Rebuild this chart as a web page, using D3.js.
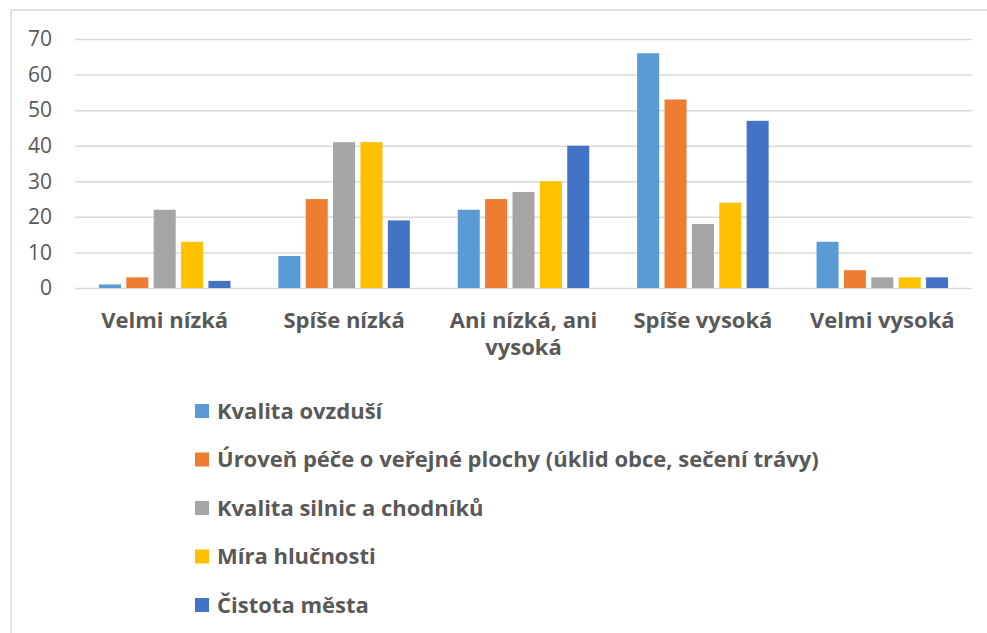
<!DOCTYPE html>
<html>
<head>
<meta charset="utf-8">
<script src="https://cdn.jsdelivr.net/npm/d3@7"></script>
<style>
  body { margin: 0; background: #fff; }
  svg text { font-family: "Open Sans", "Noto Sans", sans-serif; fill: #595959; }
</style>
</head>
<body>
<div id="chart"></div>
<script>
const width = 987;
const height = 633;

// data
const categories = ["Velmi nízká", "Spíše nízká", "Ani nízká, ani vysoká", "Spíše vysoká", "Velmi vysoká"];
const series = [
    "Kvalita ovzduší",
    "Úroveň péče o veřejné plochy (úklid obce, sečení trávy)",
    "Kvalita silnic a chodníků",
    "Míra hlučnosti",
    "Čistota města"
];
const kvalitaOvzdusi = [1, 9, 22, 66, 13];
const pecePlochy = [3, 25, 25, 53, 5];
const silniceChodniky = [22, 41, 27, 18, 3];
const hlucnost = [13, 41, 30, 24, 3];
const cistota = [2, 19, 40, 47, 3];
const yTicks = [0, 10, 20, 30, 40, 50, 60, 70];
const colors = ["#5B9BD5", "#ED7D31", "#A5A5A5", "#FFC000", "#4472C4"];

const values = [kvalitaOvzdusi, pecePlochy, silniceChodniky, hlucnost, cistota];
const table = categories.map((c, i) => ({
    category: c,
    bars: series.map((s, j) => ({ series: s, value: values[j][i], color: colors[j] }))
}));

const margin = { top: 39, right: 15, bottom: 345, left: 75 };

const svg = d3.select("#chart").append("svg")
    .attr("width", width)
    .attr("height", height);

// outer frame (only top and left edges visible in the crop)
svg.append("rect")
    .attr("x", 11)
    .attr("y", 10)
    .attr("width", 1000)
    .attr("height", 700)
    .attr("fill", "none")
    .attr("stroke", "#d9d9d9")
    .attr("stroke-width", 1.5);

const x0 = d3.scaleBand()
    .domain(categories)
    .range([margin.left, width - margin.right])
    .paddingInner(0.267)
    .paddingOuter(0.1335);

const x1 = d3.scaleBand()
    .domain(series)
    .range([0, x0.bandwidth()])
    .paddingInner(0.196);

const y = d3.scaleLinear()
    .domain([0, 70])
    .range([height - margin.bottom, margin.top]);

// gridlines + tick labels
const yAxis = d3.axisLeft(y)
    .tickValues(yTicks)
    .tickSize(-(width - margin.right - margin.left))
    .tickPadding(23);

const gy = svg.append("g")
    .attr("transform", `translate(${margin.left},0)`)
    .call(yAxis);
gy.select(".domain").remove();
gy.selectAll(".tick line")
    .attr("stroke", "#d9d9d9")
    .attr("stroke-width", 1.5);
gy.selectAll(".tick text")
    .style("font-size", "21px")
    .attr("fill", "#595959");

// bars
const groups = svg.append("g")
    .selectAll("g")
    .data(table)
    .enter()
    .append("g")
    .attr("transform", d => `translate(${x0(d.category)},0)`);

groups.selectAll("rect")
    .data(d => d.bars)
    .enter()
    .append("rect")
    .attr("x", d => x1(d.series))
    .attr("y", d => y(d.value))
    .attr("width", x1.bandwidth())
    .attr("height", d => y(0) - y(d.value))
    .attr("fill", d => d.color);

// category labels, wrapped to the band width
const xAxis = d3.axisBottom(x0).tickSize(0).tickPadding(0);
const gx = svg.append("g")
    .attr("transform", `translate(0,${y(0)})`)
    .call(xAxis);
gx.select(".domain").remove();
gx.selectAll(".tick text")
    .style("font-size", "22px")
    .style("font-weight", "bold")
    .attr("fill", "#595959")
    .attr("dy", null)
    .attr("y", 40)
    .call(wrap, x0.step() - 10);

function wrap(text, maxWidth) {
    text.each(function() {
        const t = d3.select(this);
        const words = t.text().split(/\s+/);
        t.text(null);
        let line = [];
        let lineNo = 0;
        let tspan = t.append("tspan").attr("x", 0).attr("y", 40);
        words.forEach(w => {
            line.push(w);
            tspan.text(line.join(" "));
            if (tspan.node().getComputedTextLength() > maxWidth && line.length > 1) {
                line.pop();
                tspan.text(line.join(" "));
                line = [w];
                lineNo++;
                tspan = t.append("tspan").attr("x", 0).attr("y", 40 + lineNo * 27).text(w);
            }
        });
    });
}

// legend
const legend = svg.append("g")
    .attr("transform", "translate(195,411)");

const items = legend.selectAll("g")
    .data(series)
    .enter()
    .append("g")
    .attr("transform", (d, i) => `translate(0,${i * 48.5})`);

items.append("rect")
    .attr("x", 0)
    .attr("y", -7)
    .attr("width", 14)
    .attr("height", 14)
    .attr("fill", (d, i) => colors[i]);

items.append("text")
    .attr("x", 22)
    .attr("y", 0)
    .attr("dy", "0.35em")
    .style("font-size", "22px")
    .style("font-weight", "bold")
    .text(d => d);
</script>
</body>
</html>
